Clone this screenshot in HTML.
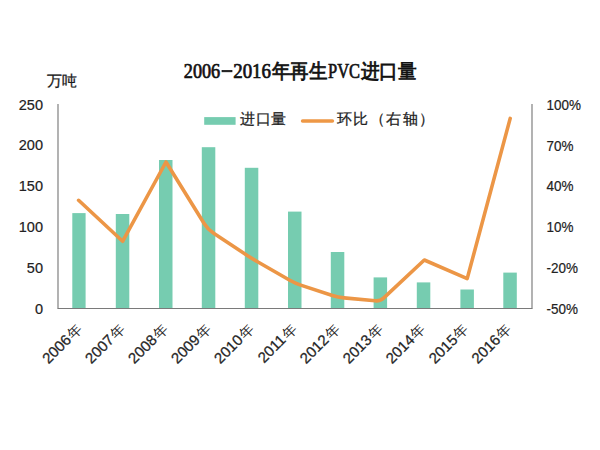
<!DOCTYPE html>
<html><head><meta charset="utf-8">
<style>
html,body{margin:0;padding:0;background:#fff;}
body{width:600px;height:450px;overflow:hidden;position:relative;font-family:"Liberation Sans",sans-serif;}
svg{position:absolute;left:0;top:0;}
svg{font-family:"Liberation Sans",sans-serif;fill:#222;}
</style></head><body>
<svg width="600" height="450" viewBox="0 0 600 450">
  <!-- title -->
  <g style="font-family:'Liberation Serif',serif;font-size:20.5px;fill:#111;stroke:#111;stroke-width:0.7px;">
    <text x="183.8" y="78" textLength="36.4" lengthAdjust="spacingAndGlyphs">2006</text>
    <rect x="222" y="70.4" width="10" height="1.4"/>
    <text x="233.2" y="78" textLength="37.8" lengthAdjust="spacingAndGlyphs">2016</text>
    <text x="328" y="78" textLength="32" lengthAdjust="spacingAndGlyphs">PVC</text>
  </g>
  <g style="font-family:'Liberation Serif',serif;font-size:19.5px;fill:#111;stroke:#111;stroke-width:0.8px;">
    <text x="271.8" y="77.7" textLength="55.5" lengthAdjust="spacingAndGlyphs">年再生</text>
    <text x="360.6" y="77.7" textLength="56" lengthAdjust="spacingAndGlyphs">进口量</text>
  </g>
  <!-- unit -->
  <text x="46.6" y="86" style="font-size:15.2px;fill:#1a1a1a;stroke:#1a1a1a;stroke-width:0.3px;">万吨</text>
  <!-- left ticks -->
  <g style="font-size:14.5px;fill:#222;stroke:#222;stroke-width:0.2px;" text-anchor="end">
    <text x="43" y="109.5">250</text>
    <text x="43" y="150.4">200</text>
    <text x="43" y="191.2">150</text>
    <text x="43" y="232.1">100</text>
    <text x="43" y="272.9">50</text>
    <text x="43" y="313.8">0</text>
  </g>
  <!-- right ticks -->
  <g style="font-size:14.5px;fill:#222;stroke:#222;stroke-width:0.2px;">
    <text transform="translate(546.5,109.7) scale(0.93,1)">100%</text>
    <text transform="translate(546.5,150.6) scale(0.93,1)">70%</text>
    <text transform="translate(546.5,191.4) scale(0.93,1)">40%</text>
    <text transform="translate(546.5,232.3) scale(0.93,1)">10%</text>
    <text transform="translate(546.5,273.1) scale(0.93,1)">-20%</text>
    <text transform="translate(546.5,314.0) scale(0.93,1)">-50%</text>
  </g>
  <!-- axes -->
  <g stroke="#7a7a7a" stroke-width="1.15" fill="none">
    <line x1="58" y1="104" x2="58" y2="308.5"/>
    <line x1="57.5" y1="308.5" x2="532.5" y2="308.5"/>
    <line x1="532" y1="104" x2="532" y2="308.5"/>
  </g>
  <!-- bars -->
  <g fill="#76CCB0">
    <rect x="72.3" y="213.1" width="13.3" height="94.9"/>
    <rect x="115.8" y="214" width="13.5" height="94"/>
    <rect x="159" y="160" width="13.5" height="148"/>
    <rect x="201.8" y="147.2" width="13.5" height="160.8"/>
    <rect x="244.8" y="167.8" width="13.5" height="140.2"/>
    <rect x="288" y="211.6" width="13.5" height="96.4"/>
    <rect x="330.8" y="252" width="13.5" height="56"/>
    <rect x="373.6" y="277.4" width="13.5" height="30.6"/>
    <rect x="416.8" y="282.4" width="13.5" height="25.6"/>
    <rect x="460.4" y="289.5" width="13.5" height="18.5"/>
    <rect x="503.3" y="272.6" width="13.5" height="35.4"/>
  </g>
  <!-- line -->
  <path fill="none" stroke="#EC9646" stroke-width="3.6" stroke-linejoin="round" stroke-linecap="round" d="M78.6,200.3 L122.6,241.3 L166,162 L204.11,223.55 Q207.8,229.5 213.65,233.35 L246.89,255.20 Q251.9,258.5 257.10,261.49 L289.80,280.31 Q295,283.3 300.71,285.15 L332.39,295.45 Q338.1,297.3 344.07,297.87 L375.22,300.83 Q380.2,301.3 383.85,297.88 L424.3,260 L467.2,278.6 L510.2,118.4"/>
  <!-- legend -->
  <rect x="204.2" y="117.1" width="31.4" height="7.7" fill="#76CCB0"/>
  <text x="240" y="124.3" style="font-size:15px;letter-spacing:0.6px;stroke:#222;stroke-width:0.25px;">进口量</text>
  <line x1="302.6" y1="121" x2="332.4" y2="121" stroke="#EE9846" stroke-width="3.6" stroke-linecap="round"/>
  <text x="336.5" y="123.8" style="font-size:15px;letter-spacing:1.6px;stroke:#222;stroke-width:0.25px;">环比（右轴）</text>
  <!-- x labels -->
  <g style="font-size:15px;fill:#262626;stroke:#262626;stroke-width:0.25px;" text-anchor="end">
    <text transform="translate(82.8,330.1) rotate(-45)">2006<tspan dx="1.2" style="stroke-width:0;font-size:14.2px">年</tspan></text>
    <text transform="translate(125.7,330.1) rotate(-45)">2007<tspan dx="1.2" style="stroke-width:0;font-size:14.2px">年</tspan></text>
    <text transform="translate(168.7,330.1) rotate(-45)">2008<tspan dx="1.2" style="stroke-width:0;font-size:14.2px">年</tspan></text>
    <text transform="translate(211.6,330.1) rotate(-45)">2009<tspan dx="1.2" style="stroke-width:0;font-size:14.2px">年</tspan></text>
    <text transform="translate(254.6,330.1) rotate(-45)">2010<tspan dx="1.2" style="stroke-width:0;font-size:14.2px">年</tspan></text>
    <text transform="translate(297.5,330.1) rotate(-45)">2011<tspan dx="1.2" style="stroke-width:0;font-size:14.2px">年</tspan></text>
    <text transform="translate(340.4,330.1) rotate(-45)">2012<tspan dx="1.2" style="stroke-width:0;font-size:14.2px">年</tspan></text>
    <text transform="translate(383.4,330.1) rotate(-45)">2013<tspan dx="1.2" style="stroke-width:0;font-size:14.2px">年</tspan></text>
    <text transform="translate(426.3,330.1) rotate(-45)">2014<tspan dx="1.2" style="stroke-width:0;font-size:14.2px">年</tspan></text>
    <text transform="translate(469.3,330.1) rotate(-45)">2015<tspan dx="1.2" style="stroke-width:0;font-size:14.2px">年</tspan></text>
    <text transform="translate(512.2,330.1) rotate(-45)">2016<tspan dx="1.2" style="stroke-width:0;font-size:14.2px">年</tspan></text>
  </g>
</svg>
</body></html>
